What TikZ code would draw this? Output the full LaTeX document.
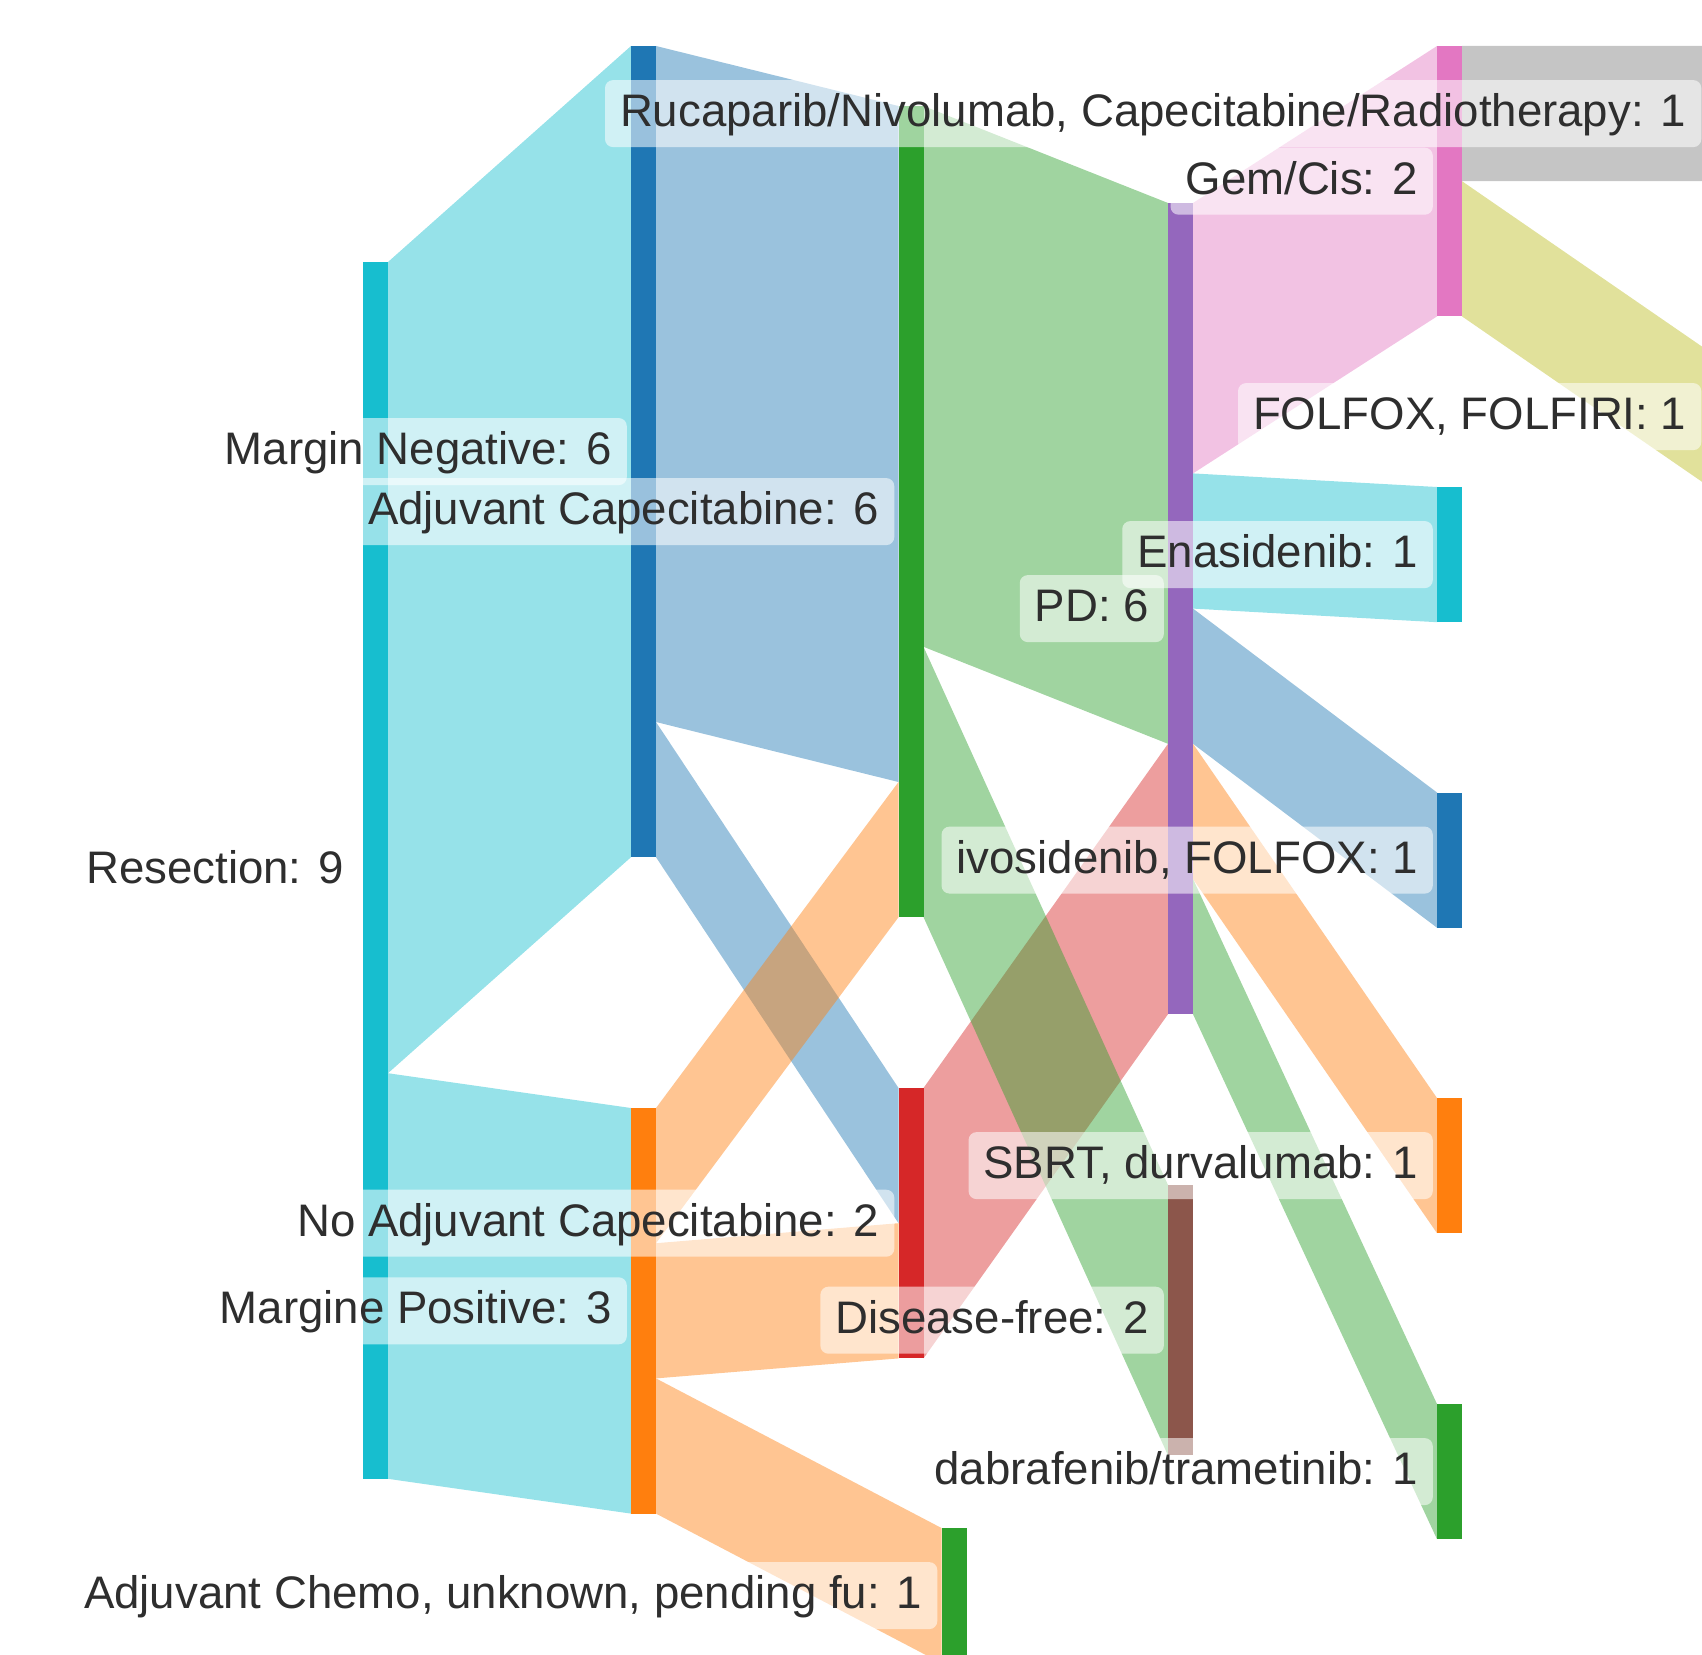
\documentclass[tikz,border=0pt]{standalone}
\usepackage{fontspec}
\setmainfont{Liberation Sans}
\usepackage{tikz}
\usetikzlibrary{calc}
\usetikzlibrary{positioning}
\usetikzlibrary{backgrounds}

\definecolor{cyanN}{HTML}{17BECF}
\definecolor{blueN}{HTML}{1F77B4}
\definecolor{orangeN}{HTML}{FF7F0E}
\definecolor{greenN}{HTML}{2CA02C}
\definecolor{redN}{HTML}{D62728}
\definecolor{purpleN}{HTML}{9467BD}
\definecolor{brownN}{HTML}{8C564B}
\definecolor{pinkN}{HTML}{E377C2}
\definecolor{grayN}{HTML}{7F7F7F}
\definecolor{oliveN}{HTML}{BCBD22}
\definecolor{lbltext}{HTML}{2E2E2E}

\newcommand{\lblfont}{\fontsize{45.6}{50}\selectfont}
% band from source node to target node: offsets and width measured downwards
\newcommand{\flow}[6]{%
  \fill[#6,fill opacity=.45]
    ($(#1.north east)+(0,#2)$) -- ($(#3.north west)+(0,#4)$)
    -- ($(#3.north west)+(0,#4+#5)$) -- ($(#1.north east)+(0,#2+#5)$) -- cycle;}

\begin{document}
\begin{tikzpicture}[x=1pt,y=-1pt,
    bar/.style={rectangle,inner sep=0pt,outer sep=0pt,minimum width=25pt},
    lbl/.style={rectangle,rounded corners=8pt,fill=white,fill opacity=.55,
      text opacity=1,text=lbltext,font=\lblfont,inner xsep=15pt,inner ysep=12.5pt,
      text height=34pt,text depth=8pt,anchor=east}]
  \useasboundingbox (0,0) rectangle (1702,1654);
  \clip (0,0) rectangle (1702,1654);

  \node[bar,fill=cyanN,minimum height=1216.8pt] (res) at (375.5,870.4) {};
  \node[bar,fill=blueN,minimum height=811.2pt] (mneg) at (643.5,451.6) {};
  \node[bar,fill=orangeN,minimum height=405.6pt] (mpos) at (643.5,1310.8) {};
  \node[bar,fill=greenN,minimum height=811.2pt] (adjcap) at (911,511.6) {};
  \node[bar,fill=redN,minimum height=270.4pt] (noadj) at (911,1223.2) {};
  \node[bar,fill=greenN,minimum height=135.2pt] (chemo) at (954,1595.6) {};
  \node[bar,fill=purpleN,minimum height=811.2pt] (pd) at (1180.5,608.6) {};
  \node[bar,fill=brownN,minimum height=270.4pt] (dfree) at (1180.5,1320.2) {};
  \node[bar,fill=pinkN,minimum height=270.4pt] (gem) at (1449.5,181.2) {};
  \node[bar,fill=cyanN,minimum height=135.2pt] (enas) at (1449.5,554.6) {};
  \node[bar,fill=blueN,minimum height=135.2pt] (ivo) at (1449.5,860.1) {};
  \node[bar,fill=orangeN,minimum height=135.2pt] (sbrt) at (1449.5,1165.6) {};
  \node[bar,fill=greenN,minimum height=135.2pt] (dabr) at (1449.5,1471.6) {};
  \node[bar,fill=grayN,minimum height=135.2pt] (ruca) at (1718,113.6) {};
  \node[bar,fill=oliveN,minimum height=135.2pt] (folf) at (1718,416.6) {};

  \begin{scope}[on background layer]
    \clip (0,0) rectangle (1702,1654);
    \flow{res}{0}{mneg}{0}{811.2}{cyanN}
    \flow{res}{811.2}{mpos}{0}{405.6}{cyanN}
    \flow{mneg}{0}{adjcap}{0}{676}{blueN}
    \flow{mneg}{676}{noadj}{0}{135.2}{blueN}
    \flow{mpos}{0}{adjcap}{676}{135.2}{orangeN}
    \flow{mpos}{135.2}{noadj}{135.2}{135.2}{orangeN}
    \flow{mpos}{270.4}{chemo}{0}{135.2}{orangeN}
    \flow{noadj}{0}{pd}{540.8}{270.4}{redN}
    \flow{adjcap}{0}{pd}{0}{540.8}{greenN}
    \flow{adjcap}{540.8}{dfree}{0}{270.4}{greenN}
    \flow{pd}{0}{gem}{0}{270.4}{pinkN}
    \flow{pd}{270.4}{enas}{0}{135.2}{cyanN}
    \flow{pd}{405.6}{ivo}{0}{135.2}{blueN}
    \flow{pd}{540.8}{sbrt}{0}{135.2}{orangeN}
    \flow{pd}{676}{dabr}{0}{135.2}{greenN}
    \flow{gem}{0}{ruca}{0}{135.2}{grayN}
    \flow{gem}{135.2}{folf}{0}{135.2}{oliveN}
  \end{scope}

  \node[lbl] (resL) at ($(res.west)+(-4,0)$) {Resection: 9};
  \node[lbl] (mnegL) at ($(mneg.west)+(-4,0)$) {Margin Negative: 6};
  \node[lbl] (mposL) at ($(mpos.west)+(-4,0)$) {Margine Positive: 3};
  \node[lbl] (adjcapL) at ($(adjcap.west)+(-4,0)$) {Adjuvant Capecitabine: 6};
  \node[lbl] (noadjL) at ($(noadj.west)+(-4,0)$) {No Adjuvant Capecitabine: 2};
  \node[lbl] (chemoL) at ($(chemo.west)+(-4,0)$) {Adjuvant Chemo, unknown, pending fu: 1};
  \node[lbl] (pdL) at ($(pd.west)+(-4,0)$) {PD: 6};
  \node[lbl] (dfreeL) at ($(dfree.west)+(-4,0)$) {Disease-free: 2};
  \node[lbl] (gemL) at ($(gem.west)+(-4,0)$) {Gem/Cis: 2};
  \node[lbl] (enasL) at ($(enas.west)+(-4,0)$) {Enasidenib: 1};
  \node[lbl] (ivoL) at ($(ivo.west)+(-4,0)$) {ivosidenib, FOLFOX: 1};
  \node[lbl] (sbrtL) at ($(sbrt.west)+(-4,0)$) {SBRT, durvalumab: 1};
  \node[lbl] (dabrL) at ($(dabr.west)+(-4,0)$) {dabrafenib/trametinib: 1};
  \node[lbl] (rucaL) at ($(ruca.west)+(-4,0)$) {Rucaparib/Nivolumab, Capecitabine/Radiotherapy: 1};
  \node[lbl] (folfL) at ($(folf.west)+(-4,0)$) {FOLFOX, FOLFIRI: 1};
\end{tikzpicture}
\end{document}
